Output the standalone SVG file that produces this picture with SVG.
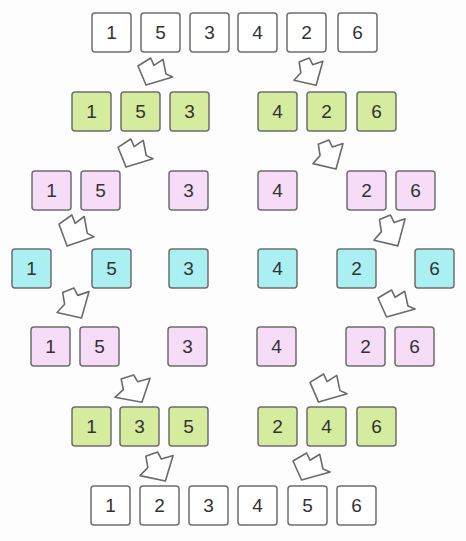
<svg xmlns="http://www.w3.org/2000/svg" xmlns:xlink="http://www.w3.org/1999/xlink" width="466" height="541" viewBox="0 0 466 541">
<style>
.b{stroke:#6e6e6e;stroke-width:1.5}
.w{fill:#ffffff}
.g{fill:#d5ec9e}
.p{fill:#f6dcf6}
.c{fill:#aaeff1}
.t{font-family:"Liberation Sans",Arial,sans-serif;font-size:19px;fill:#333333;text-anchor:middle;dominant-baseline:central}
.ar{fill:#ffffff;stroke:#6a6a6a;stroke-width:1.6;stroke-linejoin:round;vector-effect:non-scaling-stroke}
</style>
<defs>
<polygon id="arrA" class="ar" points="0,8 12.7,0 16,7.3 25,1.3 28,16 34.7,19 8,27"/>
<polygon id="arrB" class="ar" points="5,4 15,0 18.3,6.7 28.3,3.3 21.7,27.3 0,22.3 6.7,14.7"/>
<g id="bw"><rect class="b w" width="39" height="39" rx="3"/></g>
</defs>
<rect width="466" height="541" fill="#fdfdfd"/>
<g id="connectors">
<use xlink:href="#arrA" transform="translate(138,58)"/>
<use xlink:href="#arrB" transform="translate(294,58) scale(1.02,1)"/>
<use xlink:href="#arrA" transform="translate(118,139) scale(1.01,1.04)"/>
<use xlink:href="#arrB" transform="translate(313,140) scale(1.06,1.06)"/>
<use xlink:href="#arrA" transform="translate(59,215) scale(1.01,1.15)"/>
<use xlink:href="#arrB" transform="translate(374,215) scale(1.1,1.13)"/>
<use xlink:href="#arrB" transform="translate(57,288) scale(1.13,1.1)"/>
<use xlink:href="#arrA" transform="translate(378,290) scale(1.07,1)"/>
<use xlink:href="#arrB" transform="translate(115,375) scale(1.24,1)"/>
<use xlink:href="#arrA" transform="translate(310,374) scale(1.07,1.04)"/>
<use xlink:href="#arrB" transform="translate(140,452) scale(1.17,1.06)"/>
<use xlink:href="#arrA" transform="translate(293,453) scale(1.07,1)"/>
</g>
<g id="row1">
<g id="r1n1"><rect class="b w" x="92" y="13" width="39" height="39" rx="3"/><text class="t" x="111.5" y="32.5">1</text></g>
<g id="r1n2"><rect class="b w" x="141" y="13" width="39" height="39" rx="3"/><text class="t" x="160.5" y="32.5">5</text></g>
<g id="r1n3"><rect class="b w" x="190" y="13" width="39" height="39" rx="3"/><text class="t" x="209.5" y="32.5">3</text></g>
<g id="r1n4"><rect class="b w" x="238" y="13" width="39" height="39" rx="3"/><text class="t" x="257.5" y="32.5">4</text></g>
<g id="r1n5"><rect class="b w" x="287" y="13" width="39" height="39" rx="3"/><text class="t" x="306.5" y="32.5">2</text></g>
<g id="r1n6"><rect class="b w" x="338" y="13" width="39" height="39" rx="3"/><text class="t" x="357.5" y="32.5">6</text></g>
</g>
<g id="row2">
<g id="r2n1"><rect class="b g" x="72" y="92" width="39" height="39" rx="3"/><text class="t" x="91.5" y="111.5">1</text></g>
<g id="r2n2"><rect class="b g" x="121" y="92" width="39" height="39" rx="3"/><text class="t" x="140.5" y="111.5">5</text></g>
<g id="r2n3"><rect class="b g" x="170" y="92" width="39" height="39" rx="3"/><text class="t" x="189.5" y="111.5">3</text></g>
<g id="r2n4"><rect class="b g" x="258" y="92" width="39" height="39" rx="3"/><text class="t" x="277.5" y="111.5">4</text></g>
<g id="r2n5"><rect class="b g" x="307" y="92" width="39" height="39" rx="3"/><text class="t" x="326.5" y="111.5">2</text></g>
<g id="r2n6"><rect class="b g" x="357" y="92" width="39" height="39" rx="3"/><text class="t" x="376.5" y="111.5">6</text></g>
</g>
<g id="row3">
<g id="r3n1"><rect class="b p" x="32" y="171" width="39" height="39" rx="3"/><text class="t" x="51.5" y="190.5">1</text></g>
<g id="r3n2"><rect class="b p" x="81" y="171" width="39" height="39" rx="3"/><text class="t" x="100.5" y="190.5">5</text></g>
<g id="r3n3"><rect class="b p" x="169" y="171" width="39" height="39" rx="3"/><text class="t" x="188.5" y="190.5">3</text></g>
<g id="r3n4"><rect class="b p" x="258" y="171" width="39" height="39" rx="3"/><text class="t" x="277.5" y="190.5">4</text></g>
<g id="r3n5"><rect class="b p" x="347" y="171" width="39" height="39" rx="3"/><text class="t" x="366.5" y="190.5">2</text></g>
<g id="r3n6"><rect class="b p" x="396" y="171" width="39" height="39" rx="3"/><text class="t" x="415.5" y="190.5">6</text></g>
</g>
<g id="row4">
<g id="r4n1"><rect class="b c" x="12" y="249" width="39" height="39" rx="3"/><text class="t" x="31.5" y="268.5">1</text></g>
<g id="r4n2"><rect class="b c" x="92" y="249" width="39" height="39" rx="3"/><text class="t" x="111.5" y="268.5">5</text></g>
<g id="r4n3"><rect class="b c" x="169" y="249" width="39" height="39" rx="3"/><text class="t" x="188.5" y="268.5">3</text></g>
<g id="r4n4"><rect class="b c" x="258" y="249" width="39" height="39" rx="3"/><text class="t" x="277.5" y="268.5">4</text></g>
<g id="r4n5"><rect class="b c" x="337" y="249" width="39" height="39" rx="3"/><text class="t" x="356.5" y="268.5">2</text></g>
<g id="r4n6"><rect class="b c" x="415" y="249" width="39" height="39" rx="3"/><text class="t" x="434.5" y="268.5">6</text></g>
</g>
<g id="row5">
<g id="r5n1"><rect class="b p" x="31" y="327" width="39" height="39" rx="3"/><text class="t" x="50.5" y="346.5">1</text></g>
<g id="r5n2"><rect class="b p" x="80" y="327" width="39" height="39" rx="3"/><text class="t" x="99.5" y="346.5">5</text></g>
<g id="r5n3"><rect class="b p" x="168" y="327" width="39" height="39" rx="3"/><text class="t" x="187.5" y="346.5">3</text></g>
<g id="r5n4"><rect class="b p" x="257" y="327" width="39" height="39" rx="3"/><text class="t" x="276.5" y="346.5">4</text></g>
<g id="r5n5"><rect class="b p" x="346" y="327" width="39" height="39" rx="3"/><text class="t" x="365.5" y="346.5">2</text></g>
<g id="r5n6"><rect class="b p" x="395" y="327" width="39" height="39" rx="3"/><text class="t" x="414.5" y="346.5">6</text></g>
</g>
<g id="row6">
<g id="r6n1"><rect class="b g" x="72" y="407" width="39" height="39" rx="3"/><text class="t" x="91.5" y="426.5">1</text></g>
<g id="r6n2"><rect class="b g" x="120" y="407" width="39" height="39" rx="3"/><text class="t" x="139.5" y="426.5">3</text></g>
<g id="r6n3"><rect class="b g" x="169" y="407" width="39" height="39" rx="3"/><text class="t" x="188.5" y="426.5">5</text></g>
<g id="r6n4"><rect class="b g" x="258" y="407" width="39" height="39" rx="3"/><text class="t" x="277.5" y="426.5">2</text></g>
<g id="r6n5"><rect class="b g" x="307" y="407" width="39" height="39" rx="3"/><text class="t" x="326.5" y="426.5">4</text></g>
<g id="r6n6"><rect class="b g" x="357" y="407" width="39" height="39" rx="3"/><text class="t" x="376.5" y="426.5">6</text></g>
</g>
<g id="row7">
<g id="r7n1"><rect class="b w" x="91" y="486" width="39" height="39" rx="3"/><text class="t" x="110.5" y="505.5">1</text></g>
<g id="r7n2"><rect class="b w" x="140" y="486" width="39" height="39" rx="3"/><text class="t" x="159.5" y="505.5">2</text></g>
<g id="r7n3"><rect class="b w" x="189" y="486" width="39" height="39" rx="3"/><text class="t" x="208.5" y="505.5">3</text></g>
<g id="r7n4"><rect class="b w" x="238" y="486" width="39" height="39" rx="3"/><text class="t" x="257.5" y="505.5">4</text></g>
<g id="r7n5"><rect class="b w" x="288" y="486" width="39" height="39" rx="3"/><text class="t" x="307.5" y="505.5">5</text></g>
<g id="r7n6"><rect class="b w" x="337" y="486" width="39" height="39" rx="3"/><text class="t" x="356.5" y="505.5">6</text></g>
</g>
</svg>
